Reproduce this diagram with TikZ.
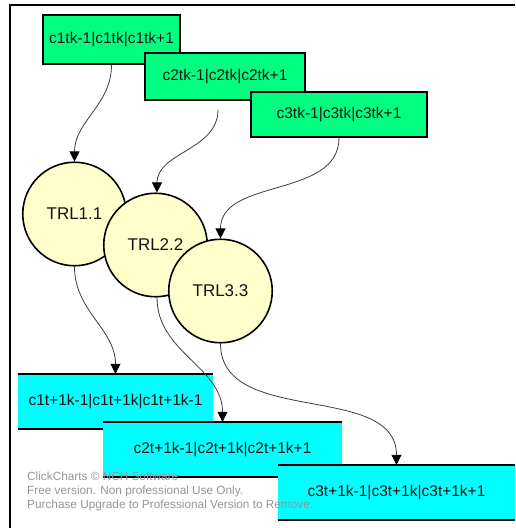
\documentclass[tikz,border=0pt]{standalone}
\usepackage{fontspec}
\setmainfont{Liberation Sans}
\usetikzlibrary{arrows.meta}
\definecolor{gfill}{RGB}{0,255,128}
\definecolor{yfill}{RGB}{255,255,204}
\definecolor{cfill}{RGB}{0,255,255}
\definecolor{wmgray}{RGB}{150,150,150}
\definecolor{txt}{RGB}{20,20,20}
\definecolor{conncol}{RGB}{60,60,60}
\begin{document}
\begin{tikzpicture}[x=1pt,y=-1pt,
  lbl/.style={font=\fontsize{15.5}{18}\selectfont,text=txt},
  gbox/.style={lbl,draw=black,line width=1.6pt,fill=gfill,inner sep=0pt,rectangle},
  trl/.style={font=\fontsize{17}{20}\selectfont,text=txt,circle,draw=black,line width=1.6pt,fill=yfill,inner sep=0pt,minimum size=103.5pt},
  cbox/.style={lbl,rectangle,fill=cfill,inner sep=0pt,minimum height=55pt},
  cline/.style={line width=2.4pt,black},
  conn/.style={draw=conncol,line width=0.8pt,-{Triangle[width=10pt,length=10pt,fill=black,color=black]}},
  wm/.style={font=\fontsize{11.8}{13}\selectfont,text=wmgray,inner sep=0pt,anchor=base west},
  frame/.style={line width=2pt,black}]
\useasboundingbox (0,0) rectangle (515,528);
\fill[white] (0,0) rectangle (515,528);
\draw[frame] (515,5) -- (9.5,5) -- (9.5,528);

% green boxes
\node[gbox,minimum width=137pt,minimum height=49pt] (g1) at (111.5,39.5) {c1tk-1|c1tk|c1tk+1};
\node[gbox,minimum width=160pt,minimum height=47pt] (g2) at (225,76.5) {c2tk-1|c2tk|c2tk+1};
\node[gbox,minimum width=176pt,minimum height=45pt] (g3) at (339,114.5) {c3tk-1|c3tk|c3tk+1};

% circles
\node[trl] (c1) at (74.5,214) {TRL1.1};
\node[trl] (c2) at (155.5,245) {TRL2.2};
\node[trl] (c3) at (220.5,291) {TRL3.3};

% cyan boxes
\node[cbox,minimum width=195pt] (b1) at (115.5,401.5) {c1t+1k-1|c1t+1k|c1t+1k-1};
\draw[cline] (b1.north west) -- (b1.north east);
\draw[cline] (b1.south west) -- (b1.south east);
\node[cbox,minimum width=239pt] (b2) at (222.5,449.5) {c2t+1k-1|c2t+1k|c2t+1k+1};
\draw[cline] (b2.north west) -- (b2.north east);
\draw[cline] (b2.south west) -- (b2.south east);
\node[cbox,minimum width=237pt] (b3) at (396.5,492.5) {c3t+1k-1|c3t+1k|c3t+1k+1};
\draw[cline] (b3.north west) -- (b3.north east);
\draw[cline] (b3.south west) -- (b3.south east);

% connectors
\coordinate (g2s) at ([shift={(-7,9)}]g2.south);
\draw[conn] (g1.south) to[out=-90,in=90] (c1.north);
\draw[conn] (g2s) to[out=-90,in=90] ([xshift=1.5pt]c2.north);
\draw[conn] (g3.south) to[out=-90,in=90] (c3.north);
\draw[conn] (c1.south) to[out=-90,in=90] (b1.north);
\draw[conn] ([xshift=1.5pt]c2.south) to[out=-90,in=90] (b2.north);
\draw[conn] (c3.south) to[out=-90,in=90] (b3.north);

% watermark
\node[wm] (wm1) at (27,480) {ClickCharts © NCH Software};
\node[wm] (wm2) at (27,494) {Free version. Non professional Use Only.};
\node[wm] (wm3) at (27,508) {Purchase Upgrade to Professional Version to Remove.};
\end{tikzpicture}
\end{document}
